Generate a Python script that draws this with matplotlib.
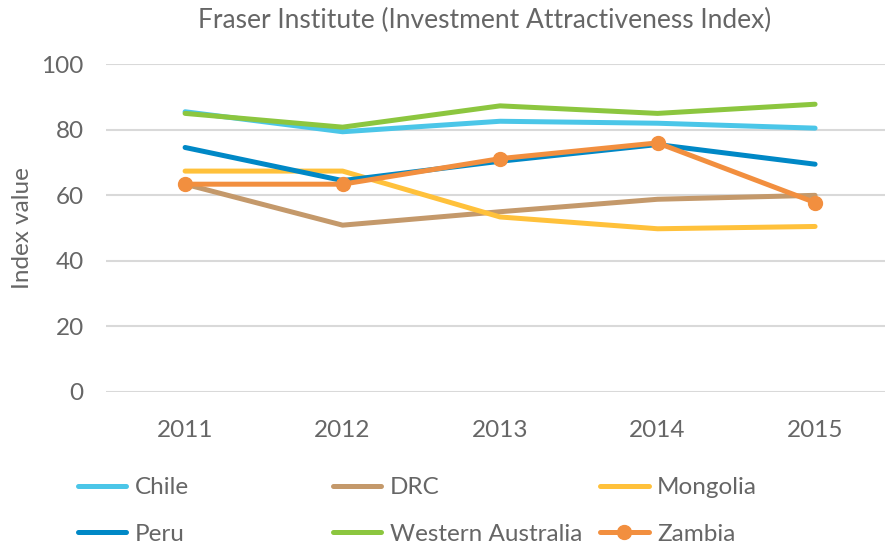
import matplotlib
matplotlib.use("Agg")
import matplotlib.pyplot as plt
import numpy as np

plt.rcParams.update({'font.family': 'Lato',
                     'text.color': '#666666',
                     'axes.labelcolor': '#666666',
                     'xtick.color': '#666666',
                     'ytick.color': '#666666'})

years = ['2011', '2012', '2013', '2014', '2015']
chile = [85.5, 79.4, 82.6, 82.0, 80.5]
drc = [63.4, 50.9, 55.0, 58.8, 60.0]
mongolia = [67.4, 67.4, 53.4, 49.8, 50.5]
peru = [74.6, 64.5, 70.4, 75.5, 69.5]
western_australia = [85.0, 80.8, 87.3, 85.0, 87.8]
zambia = [63.4, 63.4, 71.2, 76.0, 57.8]

names = ['Chile', 'DRC', 'Mongolia', 'Peru', 'Western Australia', 'Zambia']
series = [chile, drc, mongolia, peru, western_australia, zambia]
colors = ['#4BC6E8', '#C4996B', '#FFC13B', '#0088C6', '#8CC63F', '#F28F3F']

fig = plt.figure(figsize=(8.85, 5.49), dpi=100)
ax = fig.add_axes([0.1198, 0.286, 0.8802, 0.597])

x = np.arange(len(years))
lines = {}
for name, vals, c in zip(names, series, colors):
    if name == 'Zambia':
        ln, = ax.plot(x, vals, color=c, lw=3.6, marker='o', ms=10,
                      solid_capstyle='round', clip_on=False, zorder=5)
    else:
        ln, = ax.plot(x, vals, color=c, lw=3.6, solid_capstyle='round',
                      clip_on=False, zorder=3)
    lines[name] = ln

ax.set_xlim(-0.502, 4.444)
ax.set_ylim(0, 100)
ax.set_yticks(range(0, 101, 20))
ax.set_xticks(x)
ax.set_xticklabels(years)
ax.tick_params(axis='both', length=0, labelsize=17.5)
ax.tick_params(axis='y', pad=16)
ax.tick_params(axis='x', pad=20)
ax.yaxis.grid(True, color='#D9D9D9', lw=1.5)
ax.set_axisbelow(True)
for s in ax.spines.values():
    s.set_visible(False)

ax.set_ylabel('Index value', fontsize=17.5, labelpad=6)
fig.text(0.548, 0.963, 'Fraser Institute (Investment Attractiveness Index)',
         ha='center', va='center', fontsize=19)

# legend: three columns placed like the original
col_x = [0.088, 0.376, 0.678]
cols = [['Chile', 'Peru'], ['DRC', 'Western Australia'], ['Mongolia', 'Zambia']]
for cx, cn in zip(col_x, cols):
    leg = fig.legend([lines[n] for n in cn], cn, loc='upper left',
                     bbox_to_anchor=(cx, 0.131), frameon=False, fontsize=17.5,
                     handlelength=2.0, handletextpad=0.35, labelspacing=1.05,
                     borderaxespad=0, borderpad=0)

fig.savefig('out.png', dpi=100)
